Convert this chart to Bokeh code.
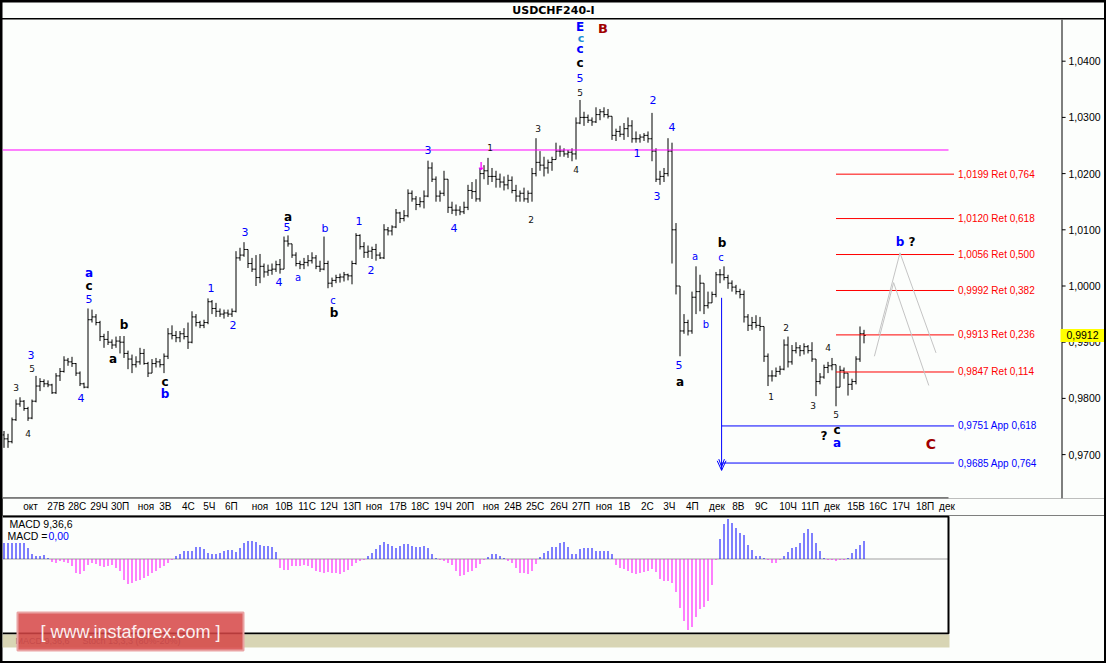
from bokeh.plotting import figure
from bokeh.models import Range1d, FixedTicker, CustomJSTickFormatter, ColumnDataSource
from bokeh.layouts import column
from bokeh.embed import file_html
from bokeh.resources import INLINE
from bokeh.core.properties import value

# ---------------- data (prices in pips: 10000 = 1.0000) ----------------
PIP = 10000.0
first_open = 9735
high = [9742, 9737, 9766, 9798, 9802, 9797, 9785, 9798, 9840, 9836,
        9834, 9832, 9826, 9845, 9854, 9875, 9872, 9874, 9863, 9848,
        9828, 9960, 9958, 9950, 9938, 9915, 9920, 9905, 9910, 9911,
        9911, 9885, 9878, 9875, 9890, 9888, 9865, 9870, 9872, 9870,
        9880, 9925, 9930, 9920, 9920, 9925, 9935, 9955, 9950, 9938,
        9940, 9978, 9975, 9970, 9960, 9958, 9958, 9960, 10062, 10068,
        10078, 10058, 10050, 10055, 10057, 10040, 10038, 10040, 10045, 10048,
        10088, 10090, 10075, 10060, 10045, 10050, 10055, 10060, 10055, 10045,
        10088, 10045, 10015, 10020, 10022, 10025, 10022, 10045, 10094, 10092,
        10078, 10072, 10070, 10075, 10060, 10110, 10105, 10108, 10137, 10132,
        10135, 10172, 10170, 10160, 10158, 10170, 10223, 10220, 10195, 10170,
        10205, 10185, 10150, 10145, 10142, 10150, 10180, 10185, 10190, 10210,
        10215, 10228, 10210, 10205, 10200, 10195, 10198, 10195, 10180, 10170,
        10175, 10170, 10210, 10263, 10240, 10230, 10225, 10230, 10255, 10250,
        10245, 10242, 10245, 10300, 10331, 10310, 10305, 10300, 10318, 10315,
        10318, 10315, 10298, 10280, 10285, 10290, 10300, 10295, 10275, 10270,
        10272, 10275, 10308, 10245, 10205, 10210, 10263, 10255, 10112, 9995,
        9950, 9940, 9990, 10035, 10020, 10000, 9990, 9990, 10025, 10030,
        10035, 10020, 10010, 10002, 9995, 9992, 9950, 9945, 9948, 9945,
        9925, 9880, 9850, 9855, 9858, 9905, 9910, 9895, 9900, 9895,
        9898, 9895, 9900, 9850, 9845, 9860, 9865, 9872, 9860, 9858,
        9855, 9845, 9835, 9875, 9928, 9922]
low = [9712, 9712, 9720, 9760, 9785, 9778, 9760, 9763, 9793, 9813,
       9820, 9820, 9808, 9808, 9831, 9846, 9858, 9856, 9840, 9822,
       9818, 9818, 9935, 9930, 9902, 9890, 9895, 9888, 9890, 9880,
       9872, 9852, 9845, 9855, 9860, 9860, 9838, 9845, 9855, 9855,
       9845, 9870, 9905, 9900, 9900, 9905, 9888, 9898, 9928, 9925,
       9925, 9932, 9950, 9945, 9945, 9942, 9945, 9945, 9953, 10045,
       10052, 10032, 10025, 10000, 10005, 10015, 10018, 10020, 10025, 10022,
       10030, 10070, 10050, 10035, 10030, 10030, 10035, 10040, 10030, 10025,
       10028, 9996, 9998, 10005, 10006, 10008, 10010, 10003, 10038, 10065,
       10050, 10050, 10048, 10045, 10048, 10048, 10090, 10090, 10103, 10112,
       10115, 10122, 10150, 10135, 10140, 10138, 10158, 10185, 10150, 10150,
       10160, 10130, 10128, 10125, 10126, 10128, 10135, 10155, 10150, 10150,
       10190, 10180, 10185, 10175, 10175, 10170, 10172, 10165, 10150, 10150,
       10150, 10148, 10150, 10195, 10205, 10195, 10200, 10205, 10225, 10230,
       10230, 10228, 10222, 10225, 10288, 10285, 10290, 10285, 10290, 10295,
       10300, 10298, 10260, 10258, 10265, 10260, 10265, 10255, 10255, 10255,
       10258, 10255, 10222, 10185, 10180, 10185, 10195, 10040, 9985, 9875,
       9915, 9912, 9915, 9950, 9955, 9950, 9960, 9975, 9980, 10005,
       10010, 9995, 9990, 9985, 9978, 9935, 9920, 9922, 9925, 9920,
       9865, 9822, 9830, 9838, 9842, 9850, 9855, 9860, 9880, 9875,
       9878, 9880, 9865, 9804, 9825, 9835, 9845, 9850, 9786, 9820,
       9835, 9805, 9815, 9825, 9865, 9898]
close = [9728, 9723, 9762, 9790, 9795, 9782, 9765, 9795, 9822, 9830,
         9826, 9824, 9810, 9840, 9848, 9868, 9865, 9862, 9845, 9826,
         9820, 9940, 9945, 9935, 9910, 9905, 9900, 9895, 9902, 9900,
         9880, 9870, 9860, 9865, 9880, 9862, 9845, 9862, 9865, 9860,
         9875, 9915, 9912, 9908, 9915, 9910, 9900, 9945, 9935, 9930,
         9935, 9972, 9960, 9955, 9950, 9952, 9950, 9955, 10050, 10055,
         10065, 10040, 10030, 10015, 10035, 10025, 10028, 10030, 10038, 10030,
         10080, 10075, 10055, 10040, 10038, 10042, 10045, 10050, 10035, 10030,
         10040, 10005, 10010, 10015, 10016, 10020, 10018, 10040, 10090, 10070,
         10060, 10062, 10065, 10055, 10050, 10100, 10098, 10105, 10130, 10120,
         10125, 10165, 10155, 10145, 10150, 10160, 10210, 10190, 10160, 10165,
         10190, 10140, 10135, 10135, 10132, 10140, 10170, 10168, 10155, 10200,
         10205, 10195, 10195, 10190, 10185, 10180, 10188, 10170, 10160, 10165,
         10155, 10165, 10200, 10220, 10215, 10210, 10220, 10225, 10240, 10240,
         10235, 10238, 10235, 10290, 10300, 10300, 10295, 10292, 10305, 10310,
         10305, 10302, 10268, 10275, 10270, 10280, 10285, 10262, 10262, 10265,
         10268, 10262, 10240, 10190, 10195, 10200, 10240, 10100, 10000, 9920,
         9935, 9920, 9980, 9990, 10005, 9965, 9970, 9985, 10020, 10020,
         10015, 10005, 9998, 9990, 9985, 9945, 9930, 9935, 9930, 9928,
         9875, 9840, 9840, 9848, 9852, 9895, 9865, 9885, 9890, 9885,
         9892, 9885, 9870, 9830, 9838, 9855, 9858, 9860, 9820, 9850,
         9845, 9825, 9830, 9870, 9915, 9912]

# MACD histogram, units of 0.0001
macd_hist = [16, 16, 16, 16, 16, 16, 11, 5, 3, 3, 4, 1,
             -3, -4, -2, -3, -4,
             -7, -14, -15, -12, -6, -4, -5, -7, -8, -7, -6, -9, -12, -21,
             -25, -24, -22, -21, -19, -17, -14, -12, -9, -7, -4,
             -1,
             3, 5, 8, 8, 8, 12, 12, 10, 6, 5, 5, 6, 8, 9, 9, 7, 11, 16, 18, 18, 17, 14, 13, 13, 12, 7,
             -9, -11, -11, -7, -7, -7, -6, -7, -9, -12, -13, -14, -13, -14, -14, -15, -13, -11, -7, -4, -2, -1,
             3, 6, 10, 14, 17, 15, 13, 11, 13, 15, 15, 13, 12, 12, 13, 11, 5, 1,
             -1, -2, -4, -6, -12, -17, -16, -13, -12, -9, -5, -1,
             2, 5, 5, 3, 1,
             -2, -4, -9, -14, -14, -15, -12, -5,
             2, 6, 8, 12, 12, 16, 17, 12, 5, 5, 10, 11, 11, 11, 8, 8, 8, 8, 5,
             -6, -9, -10, -12, -14, -15, -14, -13, -12, -10, -13, -20, -22, -22, -24, -33, -49, -62, -71, -68,
             -58, -50, -48, -42, -26, -1,
             20, 35, 40, 36, 31, 26, 24, 14, 9, 3, 3, 1,
             -1, -4, -4, -1,
             3, 7, 11, 12, 16, 26, 30, 26, 16, 8, 1,
             -1, -1, -2, -1, -1,
             1, 6, 10, 14, 18]

price_ticks = [0.97, 0.98, 0.99, 1.00, 1.01, 1.02, 1.03, 1.04]
date_tick_pos = [3.9, 10.0, 15.25, 20.75, 26.0, 32.75, 38.0, 43.75, 49.0, 54.5,
                 61.25, 67.0, 72.75, 78.25, 84.0, 89.75, 95.5, 101.0, 106.75, 112.25,
                 119.0, 124.25, 129.75, 135.75, 141.25, 147.25, 152.75, 158.5, 164.0, 169.75,
                 175.5, 181.25, 187.0, 193.0, 198.5, 204.25, 210.0, 215.5, 221.25, 227.25, 233.0]
date_tick_labels = ["окт", "27В", "28С", "29Ч", "30П", "ноя", "3В", "4С", "5Ч", "6П",
                    "ноя", "10В", "11С", "12Ч", "13П", "ноя", "17В", "18С", "19Ч", "20П",
                    "ноя", "24В", "25С", "26Ч", "27П", "ноя", "1В", "2С", "3Ч", "4П",
                    "дек", "8В", "9С", "10Ч", "11П", "дек", "15В", "16С", "17Ч", "18П", "дек"]

ret_levels = [1.0199, 1.0120, 1.0056, 0.9992, 0.9913, 0.9847]
ret_ratios = ["0,764", "0,618", "0,500", "0,382", "0,236", "0,114"]
app_levels = [0.9751, 0.9685]
app_ratios = ["0,618", "0,764"]
hline_level = 1.0242
last_price = 0.9912
proj1_x = [217.6, 222.4, 231.2]
proj1_y = [0.9875, 1.0006, 0.9823]
proj2_x = [218.7, 224.0, 233.0]
proj2_y = [0.9915, 1.0059, 0.9881]

# wave labels: (bar index, price, text, style)
wave_labels = [
    (3.0, 0.9819, "3", "ks"), (6.0, 0.9738, "4", "ks"), (7.0, 0.9854, "5", "ks"),
    (121.5, 1.0247, "1", "ks"), (131.75, 1.0119, "2", "ks"), (133.5, 1.0281, "3", "ks"),
    (143.0, 1.0208, "4", "ks"), (144.0, 1.0345, "5", "ks"), (191.75, 0.9804, "1", "ks"),
    (195.5, 0.9927, "2", "ks"), (202.25, 0.9788, "3", "ks"), (206.0, 0.9890, "4", "ks"),
    (208.0, 0.9771, "5", "ks"),
    (6.75, 0.9877, "3", "bd"), (21.25, 0.9977, "5", "bd"), (19.25, 0.9801, "4", "bd"),
    (51.75, 0.9996, "1", "bd"), (57.25, 0.9931, "2", "bd"), (60.25, 1.0096, "3", "bd"),
    (70.75, 1.0105, "5", "bd"), (68.75, 1.0007, "4", "bd"), (88.75, 1.0116, "1", "bd"),
    (91.75, 1.0029, "2", "bd"), (106.0, 1.0242, "3", "bd"), (112.5, 1.0103, "4", "bd"),
    (144.0, 1.0370, "5", "bd"), (162.25, 1.0331, "2", "bd"), (167.0, 1.0283, "4", "bd"),
    (158.25, 1.0237, "1", "bd"), (163.25, 1.0160, "3", "bd"), (168.75, 0.9859, "5", "bd"),
    (80.25, 1.0103, "b", "bd"),
    (73.5, 1.0016, "a", "bs"), (82.25, 0.9975, "c", "bs"), (172.75, 1.0052, "a", "bs"),
    (179.25, 1.0050, "c", "bs"), (175.5, 0.9931, "b", "bs"),
    (21.25, 1.0023, "a", "bB"), (40.25, 0.9808, "b", "bB"), (208.25, 0.9721, "a", "bB"),
    (224.0, 1.0078, "b", "bB"), (144.0, 1.0422, "c", "bB"), (144.0, 1.0461, "E", "bB"),
    (21.25, 1.0000, "c", "kB"), (30.0, 0.9931, "b", "kB"), (27.25, 0.9870, "a", "kB"),
    (40.25, 0.9829, "c", "kB"), (71.0, 1.0123, "a", "kB"), (82.5, 0.9952, "b", "kB"),
    (144.0, 1.0397, "c", "kB"), (169.0, 0.9829, "a", "kB"), (179.5, 1.0077, "b", "kB"),
    (208.25, 0.9744, "c", "kB"), (205.0, 0.9733, "?", "kB"), (227.0, 1.0078, "?", "kB"),
    (144.25, 1.0440, "c", "tB"),
    (149.75, 1.0459, "B", "rB"), (231.75, 0.9719, "C", "rC"),
    (119.25, 1.0212, "↓", "mg"),
]
styles = {
    "ks": ("#111111", "9px", "normal"),
    "bd": ("#0000FF", "11px", "normal"),
    "bs": ("#0000FF", "10px", "normal"),
    "bB": ("#0000FF", "12px", "bold"),
    "kB": ("#000000", "12px", "bold"),
    "tB": ("#1E8FD6", "11px", "bold"),
    "rB": ("#A00000", "13px", "bold"),
    "rC": ("#A00000", "14px", "bold"),
    "mg": ("#FF00FF", "11px", "bold"),
}

FONT = "DejaVu Sans"
AXF = "Liberation Sans"
BG = "#FCFEFC"
X0, X1 = -0.375, 275.125        # bar-index range across the full panel width (4 px per bar)
SCALE_X = 264.5                 # bar-index position of the price-scale rule
PANEL_END = 236.125             # right edge of the date row / indicator box

# ---------------- title bar ----------------
pt = figure(width=1102, height=16, x_range=Range1d(0, 1), y_range=Range1d(0, 1),
            output_backend="svg", toolbar_location=None,
            min_border_left=0, min_border_right=0, min_border_top=0, min_border_bottom=0,
            x_axis_location=None, y_axis_location=None, margin=(2, 2, 1, 2))
pt.grid.grid_line_color = None
pt.outline_line_color = None
pt.background_fill_color = BG
pt.border_fill_color = BG
pt.text(x=[0.5], y=[0.47], text=["USDCHF240-I"], text_align="center", text_baseline="middle",
        text_font=value(FONT), text_font_style="bold", text_font_size="11px", text_color="black")

# ---------------- main chart ----------------
YB, YT = 0.962189, 1.047420
p = figure(width=1102, height=496, x_range=Range1d(X0, X1), y_range=Range1d(YB, YT),
           output_backend="svg", toolbar_location=None, y_axis_location="right",
           min_border_left=0, min_border_right=0, min_border_top=0, min_border_bottom=17,
           margin=(0, 2, 0, 2))
p.grid.grid_line_color = None
p.background_fill_color = BG
p.border_fill_color = BG
p.outline_line_color = None

ya = p.yaxis[0]
ya.ticker = FixedTicker(ticks=price_ticks)
ya.formatter = CustomJSTickFormatter(code="return tick.toFixed(4).replace('.', ',');")
ya.major_label_text_font = AXF
ya.major_label_text_font_size = "10.5px"
ya.major_label_text_color = "black"
ya.major_tick_out = 0
ya.major_tick_in = 0
ya.minor_tick_line_color = None
ya.major_label_standoff = -36
ya.axis_line_color = None


def label_width(s):
    return sum(5.6 if ch.isdigit() else (7.0 if ch.isupper() else 5.3) for ch in s)


# MT4 writes each date to the right of its tick: centre the label there
date_label_pos = [t + (3 + label_width(s) / 2) / 4 for t, s in zip(date_tick_pos, date_tick_labels)]
xa = p.xaxis[0]
xa.ticker = FixedTicker(ticks=date_label_pos)
xa.formatter = CustomJSTickFormatter(args=dict(labels=date_tick_labels), code="return labels[index];")
xa.major_label_text_font = AXF
xa.major_label_text_font_size = "10px"
xa.major_label_text_color = "black"
xa.major_tick_out = 0
xa.major_tick_in = 0
xa.minor_tick_line_color = None
xa.major_label_standoff = 2
xa.axis_line_color = None

# price-scale rule, its ticks and the bottom rule of the chart
p.segment(x0=[SCALE_X], y0=[YB], x1=[SCALE_X], y1=[YT], line_color="black", line_width=1)
p.segment(x0=[SCALE_X] * len(price_ticks), y0=price_ticks, x1=[SCALE_X + 0.9] * len(price_ticks),
          y1=price_ticks, line_color="black", line_width=1)
p.segment(x0=[X0], y0=[0.962278], x1=[PANEL_END], y1=[0.962278], line_color="black", line_width=1)

n = min(len(high), len(low), len(close))
xs = list(range(n))
opens = [first_open] + close[:n - 1]
top = [max(high[i], opens[i], close[i]) / PIP for i in range(n)]
bot = [min(low[i], opens[i], close[i]) / PIP for i in range(n)]
op = [o / PIP for o in opens]
cl = [c / PIP for c in close[:n]]
bars = ColumnDataSource(dict(x=xs, xl=[x - 0.45 for x in xs], xr=[x + 0.45 for x in xs],
                             top=top, bot=bot, op=op, cl=cl))
p.segment(x0="x", y0="bot", x1="x", y1="top", source=bars, line_color="black", line_width=1)
p.segment(x0="xl", y0="op", x1="x", y1="op", source=bars, line_color="black", line_width=1)
p.segment(x0="x", y0="cl", x1="xr", y1="cl", source=bars, line_color="black", line_width=1)

# magenta horizontal level
p.segment(x0=[X0], y0=[hline_level], x1=[PANEL_END], y1=[hline_level], line_color="#FF00FF", line_width=1)

# fibonacci retracement / expansion levels
p.segment(x0=[208] * len(ret_levels), y0=ret_levels, x1=[237.5] * len(ret_levels), y1=ret_levels,
          line_color="#FF0000", line_width=1)
p.segment(x0=[179.4] * len(app_levels), y0=app_levels, x1=[237.5] * len(app_levels), y1=app_levels,
          line_color="#0000FF", line_width=1)
p.text(x=[238.5] * len(ret_levels), y=ret_levels,
       text=[("%.4f" % v).replace(".", ",") + " Ret " + r for v, r in zip(ret_levels, ret_ratios)],
       text_align="left", text_baseline="middle", text_font=value(AXF), text_font_size="10px",
       text_color="#FF0000")
p.text(x=[238.5] * len(app_levels), y=app_levels,
       text=[("%.4f" % v).replace(".", ",") + " App " + r for v, r in zip(app_levels, app_ratios)],
       text_align="left", text_baseline="middle", text_font=value(AXF), text_font_size="10px",
       text_color="#0000FF")
# vertical expansion line with arrow
p.line(x=[179.4, 179.4], y=[0.9979, 0.9672], line_color="#0000FF", line_width=1)
p.line(x=[178.3, 179.4, 180.5], y=[0.9689, 0.9672, 0.9689], line_color="#0000FF", line_width=1)
p.line(x=[178.7, 179.4, 180.1], y=[0.9692, 0.9678, 0.9692], line_color="#0000FF", line_width=1)

# projected paths
p.line(x=proj1_x, y=proj1_y, line_color="#C4C4C4", line_width=1)
p.line(x=proj2_x, y=proj2_y, line_color="#C4C4C4", line_width=1)

# wave labels grouped by style
for key, (col, size, fstyle) in styles.items():
    items = [w for w in wave_labels if w[3] == key]
    if not items:
        continue
    p.text(x=[w[0] for w in items], y=[w[1] for w in items], text=[w[2] for w in items],
           text_align="center", text_baseline="middle", text_font=value(FONT),
           text_font_size=size, text_font_style=fstyle, text_color=col)

# current price tag on the price scale (drawn over the scale labels)
tag_h = 0.00116
p.quad(left=[SCALE_X - 0.375], right=[X1], top=[last_price + tag_h], bottom=[last_price - tag_h],
       fill_color="#FFFF00", line_color=None, level="overlay")
p.text(x=[SCALE_X + 1.1], y=[last_price], text=[("%.4f" % last_price).replace(".", ",")],
       text_align="left", text_baseline="middle", text_font=value(AXF), text_font_size="10.5px",
       text_color="black", level="overlay")

# ---------------- MACD panel ----------------
pm = figure(width=1102, height=146, x_range=Range1d(X0, X1), y_range=Range1d(-0.01025, 0.00435),
            output_backend="svg", toolbar_location=None,
            min_border_left=0, min_border_right=0, min_border_top=0, min_border_bottom=0,
            x_axis_location=None, y_axis_location=None, margin=(0, 2, 2, 2))
pm.grid.grid_line_color = None
pm.background_fill_color = BG
pm.border_fill_color = BG
pm.outline_line_color = None

m = len(macd_hist)
mv = [v / PIP for v in macd_hist]
mcol = ["#0000FF" if v > 0 else "#FF00FF" for v in macd_hist]
pm.segment(x0=[X0], y0=[0], x1=[PANEL_END], y1=[0], line_color="#A0A0A0", line_width=1)
pm.segment(x0=list(range(m)), y0=[0] * m, x1=list(range(m)), y1=mv, line_color=mcol, line_width=1)

# indicator box and tab strip
pm.line(x=[X0, PANEL_END, PANEL_END, X0], y=[0.00425, 0.00425, -0.00745, -0.00745],
        line_color="black", line_width=2)
pm.quad(left=[X0], right=[PANEL_END + 0.25], top=[-0.00755], bottom=[-0.00885],
        fill_color="#D8D5B4", line_color=None)
pm.text(x=[2.875, 19.625], y=[-0.00815, -0.00815], text=["MACD 9,36,6", "Stoch 13,3,3 (80%-20%)"],
        text_align="left", text_baseline="middle", text_font=value(AXF), text_font_size="9px",
        text_color="#666666")

pm.text(x=[1.375], y=[0.00355], text=["MACD 9,36,6"], text_align="left", text_baseline="middle",
        text_font=value(AXF), text_font_size="10.5px", text_color="black")
pm.text(x=[0.875], y=[0.00235], text=["MACD ="], text_align="left", text_baseline="middle",
        text_font=value(AXF), text_font_size="10.5px", text_color="black")
pm.text(x=[11.125], y=[0.00235], text=["0,00"], text_align="left", text_baseline="middle",
        text_font=value(AXF), text_font_size="10.5px", text_color="#0000FF")

# watermark
pm.quad(left=[3.375], right=[59.875], top=[-0.00535], bottom=[-0.00915],
        fill_color="#D64545", fill_alpha=0.85, line_color="#E9A3A3", line_width=2)
pm.text(x=[31.625], y=[-0.00725], text=["[ www.instaforex.com ]"], text_align="center",
        text_baseline="middle", text_font=value(AXF), text_font_size="18px", text_color="#FBEFEF")

layout = column(pt, p, pm, spacing=0, styles={"background-color": "black"})
open("out.html", "w").write(file_html(layout, INLINE))
